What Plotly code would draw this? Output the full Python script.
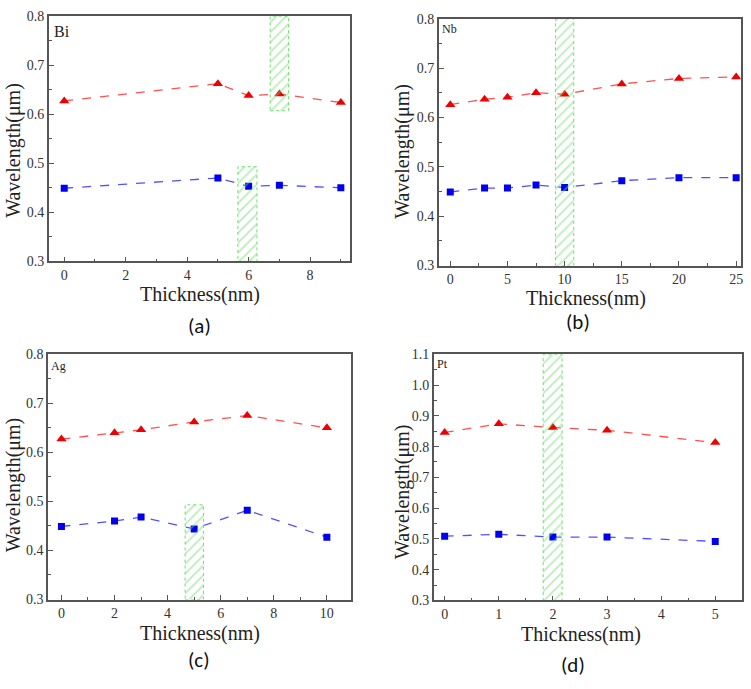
import plotly.graph_objects as go

W, H = 751, 689

# ---------------- data ----------------
bi_x = [0, 5, 6, 7, 9]
bi_red = [0.627, 0.662, 0.638, 0.641, 0.624]
bi_blue = [0.449, 0.470, 0.453, 0.455, 0.450]

nb_x = [0, 3, 5, 7.5, 10, 15, 20, 25]
nb_red = [0.626, 0.637, 0.641, 0.650, 0.647, 0.668, 0.679, 0.682]
nb_blue = [0.449, 0.457, 0.457, 0.463, 0.458, 0.472, 0.478, 0.478]

ag_x = [0, 2, 3, 5, 7, 10]
ag_red = [0.627, 0.640, 0.646, 0.662, 0.675, 0.650]
ag_blue = [0.449, 0.460, 0.468, 0.444, 0.482, 0.427]

pt_x = [0, 1, 2, 3, 5]
pt_red = [0.846, 0.874, 0.862, 0.853, 0.813]
pt_blue = [0.509, 0.515, 0.506, 0.506, 0.492]

# highlighted bands: (x0, x1, y0, y1)
bi_bands = [(6.7, 7.3, 0.607, 0.8), (5.65, 6.27, 0.3, 0.493)]
nb_bands = [(9.2, 10.8, 0.3, 0.8)]
ag_bands = [(4.66, 5.35, 0.3, 0.493)]
pt_bands = [(1.82, 2.17, 0.3, 1.1)]

labels = ["Bi", "Nb", "Ag", "Pt"]
panel_tags = ["(a)", "(b)", "(c)", "(d)"]

# ---------------- layout geometry (pixels) ----------------
def px_x(p):
    return p / W

def px_y(p):
    return 1 - p / H

# plot frames: left, right, top, bottom in px
frames = [
    (49, 351, 9.3, 260),
    (440, 742.7, 12, 264.3),
    (48.3, 351.7, 355, 605.7),
    (435, 744.3, 355, 606.7),
]
xranges = [[-0.5, 9.3], [-1.0, 25.4], [-0.5, 10.9], [-0.2, 5.5]]
yranges = [[0.3, 0.8], [0.3, 0.8], [0.3, 0.8], [0.3, 1.1]]
xdticks = [(2, 1), (5, 2.5), (2, 1), (1, 0.5)]

datasets = [
    (bi_x, bi_red, bi_blue, bi_bands),
    (nb_x, nb_red, nb_blue, nb_bands),
    (ag_x, ag_red, ag_blue, ag_bands),
    (pt_x, pt_red, pt_blue, pt_bands),
]

serif = "Liberation Serif, Times New Roman, DejaVu Serif, serif"
sans = "Carlito, Open Sans, Liberation Sans, sans-serif"

fig = go.Figure()
tickfont = dict(family=serif, size=14, color="#333333")
frame_color = "#555555"

for i, (xs, red, blue, bands) in enumerate(datasets):
    n = "" if i == 0 else str(i + 1)
    xa, ya = "x" + n, "y" + n
    fig.add_trace(go.Scatter(
        x=xs, y=red, xaxis=xa, yaxis=ya, mode="lines+markers",
        line=dict(color="#ff5050", dash="dash", width=1.3),
        marker=dict(symbol="triangle-up", size=9, color="#ee0000"),
        showlegend=False, hoverinfo="skip"))
    fig.add_trace(go.Scatter(
        x=xs, y=blue, xaxis=xa, yaxis=ya, mode="lines+markers",
        line=dict(color="#5050ff", dash="dash", width=1.3),
        marker=dict(symbol="square", size=7, color="#0000ee"),
        showlegend=False, hoverinfo="skip"))
    for (x0, x1, y0, y1) in bands:
        fig.add_trace(go.Scatter(
            x=[x0, x1, x1, x0, x0], y=[y0, y0, y1, y1, y0],
            xaxis=xa, yaxis=ya, mode="lines", fill="toself",
            fillcolor="rgba(120,230,120,0.15)",
            fillpattern=dict(shape="/", fgcolor="#6fdc6f", bgcolor="rgba(0,0,0,0)",
                             size=7, solidity=0.25),
            line=dict(color="#6fdc6f", dash="dot", width=1),
            showlegend=False, hoverinfo="skip"))

    l, r, t, b = frames[i]
    dt, mdt = xdticks[i]
    fig.layout["xaxis" + n] = dict(
        domain=[px_x(l), px_x(r)], anchor=ya, range=xranges[i],
        dtick=dt, tick0=0, ticks="inside", ticklen=5, tickwidth=1, tickcolor=frame_color,
        minor=dict(dtick=mdt, tick0=0, ticks="inside", ticklen=3, tickcolor=frame_color, showgrid=False),
        showline=True, mirror=True, linecolor=frame_color, linewidth=1.5,
        showgrid=False, zeroline=False, tickfont=tickfont)
    fig.layout["yaxis" + n] = dict(
        domain=[px_y(b), px_y(t)], anchor=xa, range=yranges[i],
        dtick=0.1, tick0=0, tickformat=".1f", ticks="inside", ticklen=5, tickwidth=1, tickcolor=frame_color,
        minor=dict(dtick=0.05, tick0=0, ticks="inside", ticklen=3, tickcolor=frame_color, showgrid=False),
        showline=True, mirror=True, linecolor=frame_color, linewidth=1.5,
        showgrid=False, zeroline=False, tickfont=tickfont)

# ---------------- text annotations ----------------
ann = []
xtitle_pos = [(201, 294), (588, 298), (201, 640), (583, 641)]
ytitle_pos = [(14, 146), (404, 147), (13, 488), (403, 495)]
tag_pos = [(200, 326), (580, 322), (200, 668), (575, 673)]
elem_pos = [(52, 25, 16), (441, 23, 12), (49, 367, 12), (436, 365, 12)]

for i in range(4):
    xp, yp = xtitle_pos[i]
    ann.append(dict(text="Thickness(nm)", x=px_x(xp), y=px_y(yp), xref="paper", yref="paper",
                    showarrow=False, font=dict(family=serif, size=20, color="#222222"),
                    xanchor="center", yanchor="middle"))
    xp, yp = ytitle_pos[i]
    ann.append(dict(text="Wavelength(μm)", x=px_x(xp), y=px_y(yp), xref="paper", yref="paper",
                    showarrow=False, textangle=-90, font=dict(family=serif, size=20, color="#222222"),
                    xanchor="center", yanchor="middle"))
    xp, yp = tag_pos[i]
    ann.append(dict(text=panel_tags[i], x=px_x(xp), y=px_y(yp), xref="paper", yref="paper",
                    showarrow=False, font=dict(family=sans, size=21, color="#111111"),
                    xanchor="center", yanchor="middle"))
    xp, yp, fs = elem_pos[i]
    ann.append(dict(text=labels[i], x=px_x(xp), y=px_y(yp), xref="paper", yref="paper",
                    showarrow=False, font=dict(family=serif, size=fs, color="#222222"),
                    xanchor="left", yanchor="middle"))

fig.update_layout(
    width=W, height=H, margin=dict(l=0, r=0, t=0, b=0),
    paper_bgcolor="white", plot_bgcolor="white",
    annotations=ann, showlegend=False)

fig.write_html("out.html")
